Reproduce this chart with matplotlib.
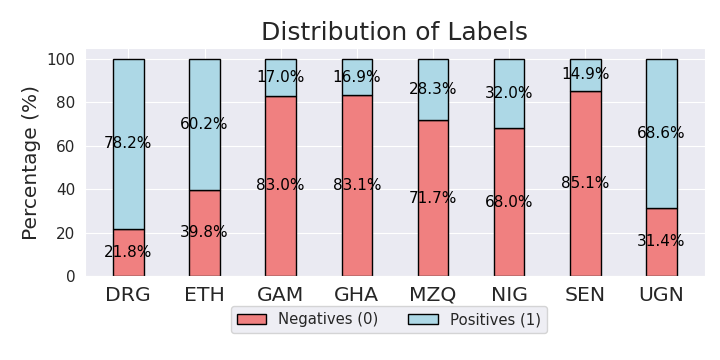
import matplotlib
matplotlib.use("Agg")
import matplotlib.pyplot as plt
import seaborn as sns
import numpy as np

sns.set_style("darkgrid")

countries = ['DRG', 'ETH', 'GAM', 'GHA', 'MZQ', 'NIG', 'SEN', 'UGN']
negatives = [21.8, 39.8, 83.0, 83.1, 71.7, 68.0, 85.1, 31.4]
positives = [78.2, 60.2, 17.0, 16.9, 28.3, 32.0, 14.9, 68.6]

fig, ax = plt.subplots(figsize=(7.2, 3.6), dpi=100)
x = np.arange(len(countries))
b1 = ax.bar(x, negatives, width=0.4, color='lightcoral', edgecolor='black', label='Negatives (0)')
b2 = ax.bar(x, positives, width=0.4, bottom=negatives, color='lightblue', edgecolor='black', label='Positives (1)')

# percentages in the middle of each segment
for i in range(len(countries)):
    ax.text(x[i], negatives[i] / 2, f'{negatives[i]:.1f}%', ha='center', va='center', fontsize=11, color='black')
    ax.text(x[i], negatives[i] + positives[i] / 2, f'{positives[i]:.1f}%', ha='center', va='center', fontsize=11, color='black')

ax.set_xticks(x)
ax.set_xticklabels(countries, fontsize=14.7)
ax.tick_params(axis='y', labelsize=11)
ax.set_ylabel('Percentage (%)', fontsize=14.5)
ax.set_title('Distribution of Labels', fontsize=18)
ax.legend(loc='upper center', bbox_to_anchor=(0.49, -0.1), ncol=2, fontsize=10.7)

plt.subplots_adjust(left=0.118, right=0.979, top=0.867, bottom=0.233)
plt.savefig('out.png', dpi=100)
